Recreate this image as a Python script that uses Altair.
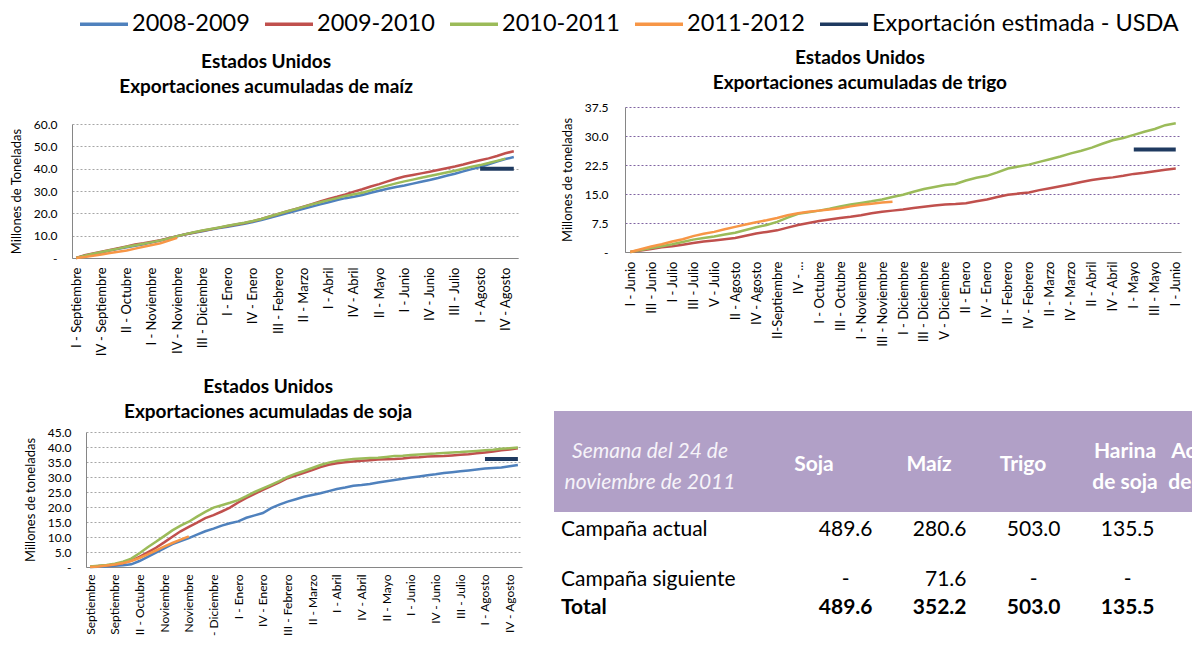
import json
import altair as alt
import pandas as pd

# ---------------- data ----------------
SERIES = ["2008-2009", "2009-2010", "2010-2011", "2011-2012", "Exportación estimada - USDA"]
COLORS = ["#4F81BD", "#C0504D", "#9BBB59", "#F79646", "#1F3A60"]

# Maize (million t), weekly cumulative, week 0 = I - Septiembre
maiz_2008_09 = [0.0, 0.9, 1.7, 2.5, 3.3, 4.1, 4.8, 5.5, 6.2, 7.0,
                7.8, 8.7, 9.7, 10.6, 11.3, 12.0, 12.7, 13.4, 14.0, 14.6,
                15.3, 16.1, 17.0, 18.0, 19.0, 20.0, 21.0, 22.0, 23.0, 24.0,
                25.0, 26.0, 26.8, 27.4, 28.2, 29.2, 30.1, 31.0, 31.8, 32.5,
                33.3, 34.1, 34.9, 35.8, 36.8, 37.7, 38.8, 39.8, 40.7, 42.0,
                43.2, 44.3, 45.2]
maiz_2009_10 = [0.0, 1.2, 2.0, 2.8, 3.6, 4.4, 5.2, 6.0, 6.6, 7.3,
                8.0, 8.9, 9.8, 10.6, 11.4, 12.2, 12.9, 13.6, 14.3, 15.0,
                15.7, 16.5, 17.5, 18.6, 19.7, 20.8, 21.9, 23.0, 24.1, 25.3,
                26.4, 27.4, 28.5, 29.7, 30.8, 32.0, 33.1, 34.3, 35.5, 36.5,
                37.2, 37.9, 38.6, 39.4, 40.2, 41.0, 41.9, 42.9, 43.8, 44.6,
                45.7, 46.9, 47.8]
maiz_2010_11 = [0.0, 1.0, 1.9, 2.7, 3.5, 4.2, 5.0, 5.7, 6.4, 7.1,
                7.9, 8.8, 9.8, 10.7, 11.5, 12.3, 13.0, 13.7, 14.4, 15.1,
                15.8, 16.6, 17.5, 18.6, 19.7, 20.8, 21.8, 22.9, 24.0, 25.0,
                25.9, 26.8, 27.8, 28.5, 29.2, 30.3, 31.4, 32.4, 33.4, 34.3,
                35.1, 35.9, 36.7, 37.5, 38.3, 39.1, 40.0, 40.9, 41.6, 42.5,
                43.5, 44.5]
maiz_2011_12 = [0.0, 0.4, 1.0, 1.6, 2.2, 2.8, 3.4, 4.2, 5.0, 5.8, 6.6, 7.8, 9.0]
maiz_estimacion = [40.0, 40.0]

# Wheat, week 0 = I - Junio
trigo_2009_10 = [0.0, 0.4, 0.8, 1.2, 1.5, 1.9, 2.3, 2.7, 3.0, 3.3,
                 3.6, 4.2, 4.8, 5.2, 5.6, 6.3, 7.0, 7.5, 8.0, 8.4,
                 8.8, 9.1, 9.5, 10.0, 10.4, 10.7, 11.0, 11.4, 11.7, 12.0,
                 12.3, 12.4, 12.6, 13.1, 13.6, 14.2, 14.8, 15.1, 15.4, 16.0,
                 16.5, 17.0, 17.5, 18.1, 18.6, 19.0, 19.3, 19.7, 20.2, 20.5,
                 20.9, 21.3, 21.6]
trigo_2010_11 = [0.0, 0.5, 1.0, 1.5, 2.0, 2.6, 3.2, 3.6, 4.0, 4.5,
                 5.0, 5.7, 6.4, 7.0, 7.8, 8.9, 9.9, 10.3, 10.7, 11.2,
                 11.8, 12.3, 12.7, 13.1, 13.6, 14.2, 14.8, 15.6, 16.3, 16.8,
                 17.3, 17.6, 18.5, 19.2, 19.7, 20.6, 21.6, 22.1, 22.6, 23.3,
                 24.0, 24.7, 25.5, 26.2, 27.0, 28.0, 28.9, 29.5, 30.3, 31.1,
                 31.8, 32.8, 33.3]
trigo_2011_12 = [0.0, 0.7, 1.4, 2.0, 2.7, 3.3, 4.1, 4.7, 5.2, 5.9,
                 6.5, 7.1, 7.7, 8.2, 8.8, 9.5, 10.0, 10.4, 10.7, 11.0,
                 11.3, 11.8, 12.2, 12.5, 12.8, 13.0]
trigo_estimacion = [26.5, 26.5]

# Soybean, week 0 = I - Septiembre
soja_2008_09 = [0.0, 0.1, 0.2, 0.4, 0.6, 0.9, 2.0, 3.4, 4.8, 6.2,
                7.6, 8.6, 9.6, 10.8, 11.9, 12.8, 13.8, 14.6, 15.2, 16.4,
                17.2, 18.0, 19.6, 20.8, 21.8, 22.6, 23.4, 24.0, 24.6, 25.3,
                26.0, 26.5, 27.1, 27.3, 27.7, 28.2, 28.6, 29.0, 29.4, 29.8,
                30.2, 30.6, 30.9, 31.3, 31.6, 31.9, 32.2, 32.5, 32.8, 33.0,
                33.2, 33.6, 34.0]
soja_2009_10 = [0.1, 0.3, 0.5, 0.8, 1.3, 2.1, 3.4, 4.9, 6.4, 8.2,
                10.1, 11.9, 13.4, 14.8, 16.3, 17.3, 18.5, 19.8, 21.5, 23.0,
                24.4, 25.7, 27.0, 28.2, 29.6, 30.5, 31.4, 32.3, 33.3, 34.1,
                34.6, 34.9, 35.2, 35.4, 35.6, 35.8, 35.9, 36.0, 36.2, 36.5,
                36.6, 36.8, 36.9, 37.0, 37.2, 37.4, 37.6, 37.9, 38.2, 38.5,
                38.9, 39.2, 39.6]
soja_2010_11 = [0.2, 0.4, 0.7, 1.1, 1.8, 2.8, 4.6, 6.6, 8.4, 10.3,
                12.2, 13.8, 15.1, 16.8, 18.4, 19.8, 20.6, 21.4, 22.3, 23.6,
                25.0, 26.2, 27.4, 28.6, 30.0, 31.1, 32.0, 33.0, 34.0, 34.8,
                35.3, 35.7, 36.0, 36.2, 36.3, 36.4, 36.7, 37.0, 37.1, 37.3,
                37.5, 37.7, 37.8, 38.0, 38.2, 38.3, 38.5, 38.7, 38.9, 39.1,
                39.4, 39.6, 39.8]
soja_2011_12 = [0.0, 0.2, 0.5, 0.8, 1.3, 2.0, 3.0, 4.2, 5.5, 6.8, 8.0, 9.1, 10.2]
soja_estimacion = [36.0, 36.0]

semanas_estimacion = [48, 52]

# tick labels
maiz_etiquetas = ["I - Septiembre", "IV - Septiembre", "II - Octubre", "I - Noviembre",
                  "IV - Noviembre", "III - Diciembre", "I - Enero", "IV - Enero",
                  "III - Febrero", "II - Marzo", "I - Abril", "IV - Abril", "II - Mayo",
                  "I - Junio", "IV - Junio", "III - Julio", "I - Agosto", "IV - Agosto"]
trigo_etiquetas = ["I - Junio", "III - Junio", "I - Julio", "III - Julio", "V - Julio",
                   "II - Agosto", "IV - Agosto", "II-Septiembre", "IV - ...", "I - Octubre",
                   "III - Octubre", "I - Noviembre", "III - Noviembre", "I - Diciembre",
                   "III - Diciembre", "V - Diciembre", "II - Enero", "IV - Enero",
                   "II - Febrero", "IV - Febrero", "II - Marzo", "IV - Marzo", "II - Abril",
                   "IV - Abril", "I - Mayo", "III - Mayo", "I - Junio"]
soja_etiquetas = ["Septiembre", "Septiembre", "II - Octubre", "Noviembre", "Noviembre",
                  "- Diciembre", "I - Enero", "IV - Enero", "III - Febrero", "II - Marzo",
                  "I - Abril", "IV - Abril", "II - Mayo", "I - Junio", "IV - Junio",
                  "III - Julio", "I - Agosto", "IV - Agosto"]

maiz_y = [0, 10, 20, 30, 40, 50, 60]
trigo_y = [0, 7.5, 15, 22.5, 30, 37.5]
soja_y = [0, 5, 10, 15, 20, 25, 30, 35, 40, 45]

# table
tabla_encabezados = ["Semana del 24 de\nnoviembre de 2011", "Soja", "Maíz", "Trigo",
                     "Harina\nde soja", "Aceite\nde soja"]
tabla_filas = ["Campaña actual", "Campaña siguiente", "Total"]
productos = ["Soja", "Maíz", "Trigo", "Harina de soja"]
campana_actual = [489.6, 280.6, 503.0, 135.5]
campana_siguiente = [None, 71.6, None, None]
total = [489.6, 352.2, 503.0, 135.5]

FONT = "Lato"

# ---------------- helpers ----------------
def long_df(named):
    rows = []
    for name, vals in named:
        for w, v in enumerate(vals):
            rows.append({"semana": w, "valor": v, "serie": name})
    return pd.DataFrame(rows)


def est_df(vals):
    return pd.DataFrame({"semana": semanas_estimacion, "valor": vals, "serie": SERIES[4]})


legend = alt.Legend(orient="none", legendX=18, legendY=-97, direction="horizontal",
                    title=None, symbolType="M-2,0H2", symbolSize=576, symbolStrokeWidth=3.5,
                    labelFontSize=23.5, labelFont=FONT, labelColor="#000000", labelLimit=500,
                    labelOffset=14, columnPadding=8, padding=0)
color = alt.Color("serie:N", scale=alt.Scale(domain=SERIES, range=COLORS), legend=legend)


def panel(df, est, yvals, step, labels, title, ytitle, grid_color, w, h, xr, yr,
          title_offset, title_dx, title_dy, ylabel_pad, xlabel_size, xlabel_pad):
    label_expr = json.dumps(labels, ensure_ascii=False) + f"[round(datum.value / {step})]"
    ticks = [i * step for i in range(len(labels))]
    x = alt.X("semana:Q",
              scale=alt.Scale(domain=[-0.5, 52.5], nice=False, zero=False, range=xr),
              axis=alt.Axis(values=ticks, labelExpr=label_expr, labelAngle=270,
                            labelFontSize=xlabel_size, labelPadding=xlabel_pad, ticks=False,
                            grid=False, title=None, labelOverlap=False, labelFlush=False,
                            domainColor="#868686", labelColor="#000000", labelFont=FONT))
    y = alt.Y("valor:Q",
              scale=alt.Scale(domain=[0, yvals[-1]], nice=False, range=yr),
              axis=alt.Axis(values=yvals, offset=-xr[0],
                            labelExpr="datum.value == 0 ? '-' : format(datum.value, '.1f')",
                            labelFontSize=12, labelPadding=ylabel_pad, ticks=False,
                            grid=True, gridColor=grid_color, gridDash=[2, 2], gridWidth=1,
                            domainColor="#868686", labelColor="#000000", labelFont=FONT,
                            title=ytitle, titleFontSize=13, titleFont=FONT,
                            titleFontWeight="normal", titleColor="#000000", titlePadding=10))
    lines = alt.Chart(df).mark_line(strokeWidth=2.5).encode(x=x, y=y, color=color)
    estl = alt.Chart(est).mark_line(strokeWidth=4).encode(x=x, y=y, color=color)
    return alt.layer(lines, estl).properties(
        width=w, height=h,
        title=alt.TitleParams(text=title, font=FONT, fontSize=19, fontWeight="bold",
                              color="#000000", anchor="middle", frame="bounds",
                              offset=title_offset, lineHeight=25, dx=title_dx, dy=title_dy))


# maize: group 446x151, plot occupies y 17..151
maiz = panel(long_df([(SERIES[0], maiz_2008_09), (SERIES[1], maiz_2009_10),
                      (SERIES[2], maiz_2010_11), (SERIES[3], maiz_2011_12)]),
             est_df(maiz_estimacion), maiz_y, 3, maiz_etiquetas,
             ["Estados Unidos", "Exportaciones acumuladas de maíz"],
             "Millones de Toneladas", "#A6A6A6", 446, 151, [0, 446], [151, 17], 10, 0, 0, 15,
             13, 9)

# wheat: group 627x145, plot occupies x 71..627
trigo = panel(long_df([(SERIES[1], trigo_2009_10), (SERIES[2], trigo_2010_11),
                       (SERIES[3], trigo_2011_12)]),
              est_df(trigo_estimacion), trigo_y, 2, trigo_etiquetas,
              ["Estados Unidos", "Exportaciones acumuladas de trigo"],
              "Millones de toneladas", "#8064A2", 627, 145, [71, 627], [145, 0], 8, -9, 0, 17,
              13, 9)

# soybean: group 450x156, plot occupies x 14..450, y 21..156
soja = panel(long_df([(SERIES[0], soja_2008_09), (SERIES[1], soja_2009_10),
                      (SERIES[2], soja_2010_11), (SERIES[3], soja_2011_12)]),
             est_df(soja_estimacion), soja_y, 3, soja_etiquetas,
             ["Estados Unidos", "Exportaciones acumuladas de soja"],
             "Millones de toneladas", "#A6A6A6", 450, 156, [14, 450], [156, 21], 0, -7, 11, 15,
             12, 7)

# ---------------- table ----------------
TW, TH = 638, 215
enc_df = pd.DataFrame({"enc": tabla_encabezados, "i": list(range(len(tabla_encabezados)))})
enc_df["lineas"] = enc_df["enc"].str.count("\n") + 1
celdas = []
for fi, vals in enumerate([campana_actual, campana_siguiente, total]):
    for ci, v in enumerate(vals):
        celdas.append({"fila_i": fi, "col_i": ci, "valor": v})
celdas_df = pd.DataFrame(celdas)
num_df = celdas_df[celdas_df["valor"].notna() & (celdas_df["fila_i"] != 2)]
tot_df = celdas_df[celdas_df["fila_i"] == 2]
dash_df = celdas_df[celdas_df["valor"].isna()]
filas_df = pd.DataFrame({"fila": tabla_filas, "fila_i": list(range(len(tabla_filas)))})

hx = alt.X("i:Q", scale=alt.Scale(domain=[0, 1, 2, 3, 4, 5],
                                  range=[96, 260, 375, 469, 571, 647]), axis=None)
px = alt.X("col_i:Q", scale=alt.Scale(domain=[0, 3], range=[318.5, 600.5]), axis=None)
fy = alt.Y("fila_i:Q", scale=alt.Scale(domain=[0, 1, 2], range=[119, 169, 197]), axis=None)

banda = alt.Chart(pd.DataFrame({"a": [0]})).mark_rect(color="#B1A0C7").encode(
    x=alt.value(0), x2=alt.value(TW), y=alt.value(0), y2=alt.value(101))
enc_it = alt.Chart(enc_df[enc_df["i"] == 0]).mark_text(
    font=FONT, fontSize=21, fontStyle="italic", color="#F6F3F9", lineBreak="\n",
    lineHeight=31, align="center", baseline="middle", clip=True).encode(
    x=hx, y=alt.value(41), text="enc:N")
enc_b1 = alt.Chart(enc_df[(enc_df["i"] != 0) & (enc_df["lineas"] == 1)]).mark_text(
    font=FONT, fontSize=21, fontWeight="bold", color="#FFFFFF", lineBreak="\n",
    lineHeight=31, align="center", baseline="middle", clip=True).encode(
    x=hx, y=alt.value(54), text="enc:N")
enc_b2 = alt.Chart(enc_df[(enc_df["i"] != 0) & (enc_df["lineas"] == 2)]).mark_text(
    font=FONT, fontSize=21, fontWeight="bold", color="#FFFFFF", lineBreak="\n",
    lineHeight=31, align="center", baseline="middle", clip=True).encode(
    x=hx, y=alt.value(41), text="enc:N")
nums = alt.Chart(num_df).mark_text(font=FONT, fontSize=21, color="#000000", align="right",
                                   baseline="middle").encode(
    x=px, y=fy, text=alt.Text("valor:Q", format=".1f"))
tots = alt.Chart(tot_df).mark_text(font=FONT, fontSize=21, fontWeight="bold", color="#000000",
                                   align="right", baseline="middle").encode(
    x=px, y=fy, text=alt.Text("valor:Q", format=".1f"))
dashes = alt.Chart(dash_df).mark_text(font=FONT, fontSize=21, color="#000000", align="right",
                                      baseline="middle", dx=-23, text="-").encode(x=px, y=fy)
filas_n = alt.Chart(filas_df[filas_df["fila_i"] != 2]).mark_text(
    font=FONT, fontSize=21, color="#000000", align="left", baseline="middle").encode(
    x=alt.value(7), y=fy, text="fila:N")
filas_t = alt.Chart(filas_df[filas_df["fila_i"] == 2]).mark_text(
    font=FONT, fontSize=21, fontWeight="bold", color="#000000", align="left",
    baseline="middle").encode(x=alt.value(7), y=fy, text="fila:N")

tabla = alt.layer(banda, enc_it, enc_b1, enc_b2, nums, tots, dashes, filas_n,
                  filas_t).resolve_scale(x="independent", y="independent").properties(
    width=TW, height=TH)

# ---------------- layout ----------------
chart = alt.concat(maiz, trigo, soja, tabla, columns=2,
                   spacing={"row": 153, "column": 32}, bounds="flush").properties(
    padding={"left": 2, "top": 2, "right": 0, "bottom": 0}
).configure(font=FONT).configure_view(strokeWidth=0)

chart.save("out.html", embed_options={"renderer": "svg", "actions": False})
